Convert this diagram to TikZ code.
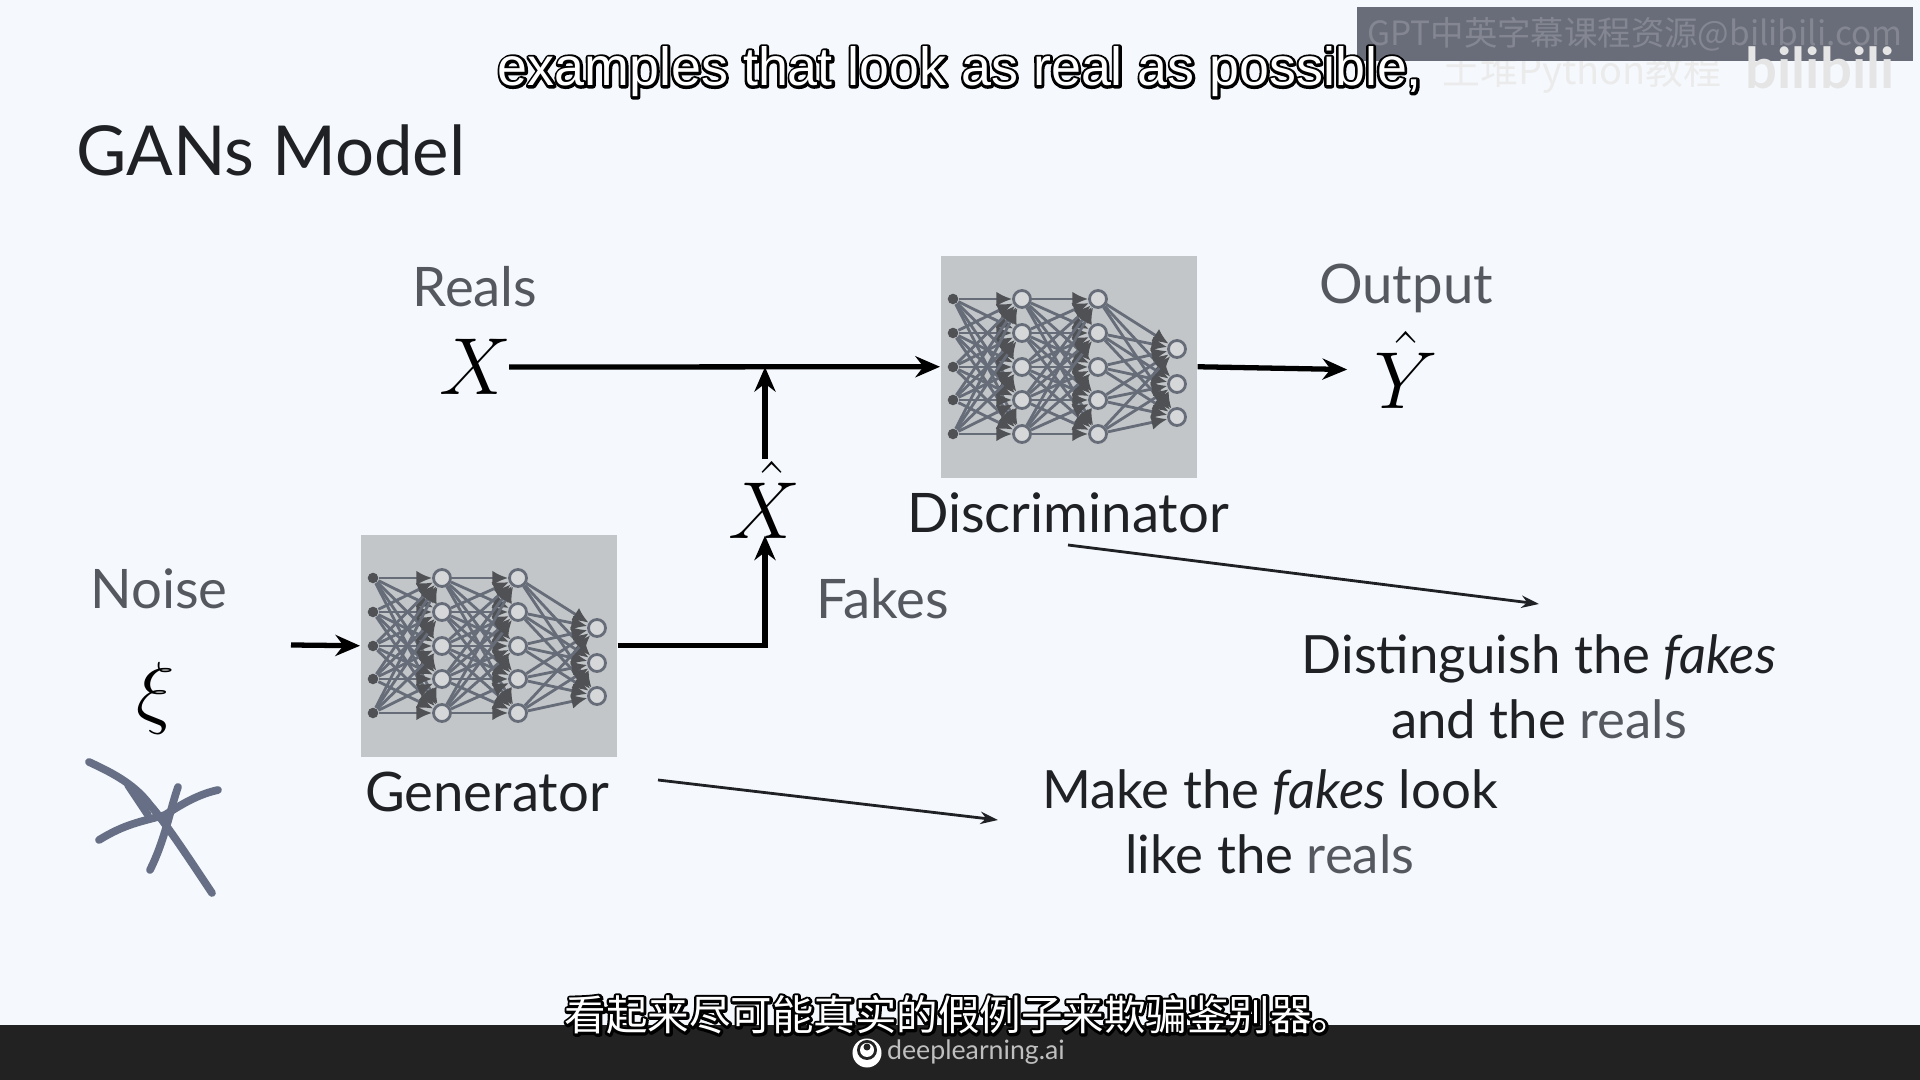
\documentclass[tikz,border=0pt]{standalone}
\usepackage{fix-cm}
\usepackage{fontspec}
\setmainfont{Lato}
\newfontfamily\subfont{Liberation Sans}
\newfontfamily\cjk{Noto Sans CJK SC}
\usepackage{tikz}
\usetikzlibrary{positioning,arrows.meta,calc}

\definecolor{pagebg}{HTML}{F5F9FD}
\definecolor{boxgray}{HTML}{C3C6C9}
\definecolor{edgegray}{HTML}{666C78}
\definecolor{tipgray}{HTML}{4F5155}
\definecolor{inkblue}{HTML}{666F85}
\definecolor{markgray}{HTML}{696D7A}
\definecolor{softtxt}{HTML}{55595F}
\definecolor{darktxt}{HTML}{1F2124}
\definecolor{barblack}{HTML}{222222}

\newcommand{\outl}[1]{\rlap{\special{pdf:code q 1 Tr 1.5 w 1 j 0 0 0 RG}#1\special{pdf:code 0 Tr Q}}\textcolor{white}{#1}}

\tikzset{
    nnin/.style  = {circle, fill=tipgray, minimum size=3pt, inner sep=0pt},
    nnode/.style = {circle, draw=edgegray, line width=0.8pt, fill=boxgray!70!white,
                    minimum size=1.7mm, inner sep=0pt},
    nedge/.style = {draw=edgegray, line width=0.8pt, -{Latex[length=4.5pt,width=4.2pt,color=tipgray]}},
    % the stacked network drawn on a grey box; origin is the top left of the box
    ganet/.pic = {
      \foreach \i/\y in {1/44,2/78,3/112,4/145,5/179} {
        \node[nnin]  (-a\i) at (13,\y)  {};
        \node[nnode] (-b\i) at (82,\y)  {};
        \node[nnode] (-c\i) at (158,\y) {};
      }
      \foreach \i/\y in {1/94,2/129,3/162}
        \node[nnode] (-d\i) at (237,\y) {};
      \foreach \i in {1,...,5} {
        \foreach \j in {1,...,5} {
          \draw[nedge] (-a\i) -- (-b\j);
          \draw[nedge] (-b\i) -- (-c\j);
        }
        \foreach \j in {1,2,3}
          \draw[nedge] (-c\i) -- (-d\j);
      }
    },
}

\begin{document}
\begin{tikzpicture}[
    x=0.01cm, y=-0.01cm,
    >=Stealth,
    netbox/.style = {draw=none, fill=boxgray, minimum width=2.56cm, minimum height=2.22cm,
                     inner sep=0pt, anchor=north west},
    flow/.style   = {draw=black, line width=1.5pt, -{Stealth[length=7pt,width=6pt]}},
    note/.style   = {draw=darktxt, line width=0.8pt, -{Stealth[length=5pt,width=3.5pt]}},
    ttl/.style    = {font=\fontsize{19.6}{24}\selectfont, text=darktxt},
    lab/.style    = {font=\fontsize{15.5}{18.5}\selectfont, text=softtxt},
    blk/.style    = {font=\fontsize{15.5}{18.5}\selectfont, text=darktxt, align=center},
    txtn/.style   = {font=\fontsize{15}{18.5}\selectfont, text=darktxt, align=center},
    sym/.style    = {font=\fontsize{23}{28}\selectfont, inner sep=0.5pt},
    scrib/.style  = {draw=inkblue, line width=2.2pt, line cap=round, line join=round},
    subt/.style   = {font=\subfont\fontsize{15.3}{18}\selectfont, inner sep=0pt},
]
\useasboundingbox (0,0) rectangle (1920,1080);
\fill[pagebg] (0,0) rectangle (1920,1080);

% ============ title and labels ============
\node[ttl] (title) at (271,150) {GANs Model};
\node[lab] (reals) at (475,287) {Reals};
\node[lab] (noise) at (159,589) {Noise};
\node[lab] (fakes) at (883,599) {Fakes};
\node[lab] (output) at (1406,288) {Output};

\node[sym] (x)    at (476,367)  {$X$};
\node[sym] (xhat) at (765,500)  {$\hat{X}$};
\node[sym] (yhat) at (1406,370) {$\hat{Y}$};
\node[sym] (xi)   at (156,698)  {$\xi$};

% ============ the two networks ============
\node[netbox] (disc) at (940,255) {};
\pic (dn) at (disc.north west) {ganet};
\node[blk] (disclab) at (1068,513) {Discriminator};

\node[netbox] (gen) at (360,534) {};
\pic (gn) at (gen.north west) {ganet};
\node[blk] (genlab) at (487,792) {Generator};

% ============ data flow ============
\coordinate (nin) at (291,645);
\coordinate (join) at (765,367);
\draw[flow] (nin) -- (gen.west);
\draw[flow, shorten >=-1.5pt] (gen.east) -| (xhat.south);
\draw[flow] (xhat.north) -- (join);
\draw[flow, shorten <=-1.5pt] (x.east) -- (disc.west);
\draw[flow, shorten >=7pt] (disc.east) -- (yhat.west);

% ============ what each part does ============
\node[txtn] (distxt) at (1539,687)
  {Distinguish the \textit{fakes}\\ and the \textcolor{softtxt}{reals}};
\node[txtn] (maktxt) at (1270,822)
  {Make the \textit{fakes} look\\ like the \textcolor{softtxt}{reals}};
\coordinate (disout) at (1068,545);
\coordinate (disend) at (1539,604);
\coordinate (genout) at (658,780);
\coordinate (genend) at (998,820);
\draw[note] (disout) -- (disend);
\draw[note] (genout) -- (genend);

% pen scribble over the noise
\draw[scrib] (89,762) .. controls (115,774) and (135,785) .. (150,805)
  .. controls (165,822) and (190,860) .. (212,893);
\draw[scrib] (99,840) .. controls (125,824) and (140,822) .. (165,815)
  .. controls (185,802) and (200,794) .. (218,790);
\draw[scrib] (178,787) .. controls (170,810) and (165,840) .. (150,870);
\draw[scrib] (128,785) -- (148,815);

% ============ video overlay ============
\fill[barblack] (0,1025) rectangle (1920,1080);
\node[circle, fill=white, minimum size=2.9mm, inner sep=0pt] (logo) at (867,1053) {};
\node[circle, fill=barblack, minimum size=2mm, inner sep=0pt] (logoa) at (867,1050) {};
\node[circle, fill=white, minimum size=1.4mm, inner sep=0pt] (logob) at (867,1050) {};
\node[circle, fill=barblack, minimum size=0.7mm, inner sep=0pt] (logoc) at (867,1047) {};
\node[text=white!75!black, font=\fontsize{7.6}{10}\selectfont] (brand) at (976,1052) {deeplearning.ai};

\node[text=white!92!black, font=\cjk\fontsize{10.8}{12}\selectfont] (upname) at (1582,73) {土堆Python教程};
\fill[markgray] (1357,7) rectangle (1913,61);
\node[text=white!18!markgray, font=\cjk\fontsize{9.5}{10}\selectfont] (mark) at (1635,34) {GPT中英字幕课程资源@bilibili.com};
\node[text=white!90!black, font=\bfseries\fontsize{16}{20}\selectfont] (bili) at (1820,68) {bilibili};

\node[subt] (subtop) at (960,72) {\outl{examples that look as real as possible,}};
\node[subt, font=\cjk\fontsize{11.8}{14}\selectfont] (subbot) at (959,1015) {\outl{看起来尽可能真实的假例子来欺骗鉴别器。}};

\end{tikzpicture}
\end{document}
